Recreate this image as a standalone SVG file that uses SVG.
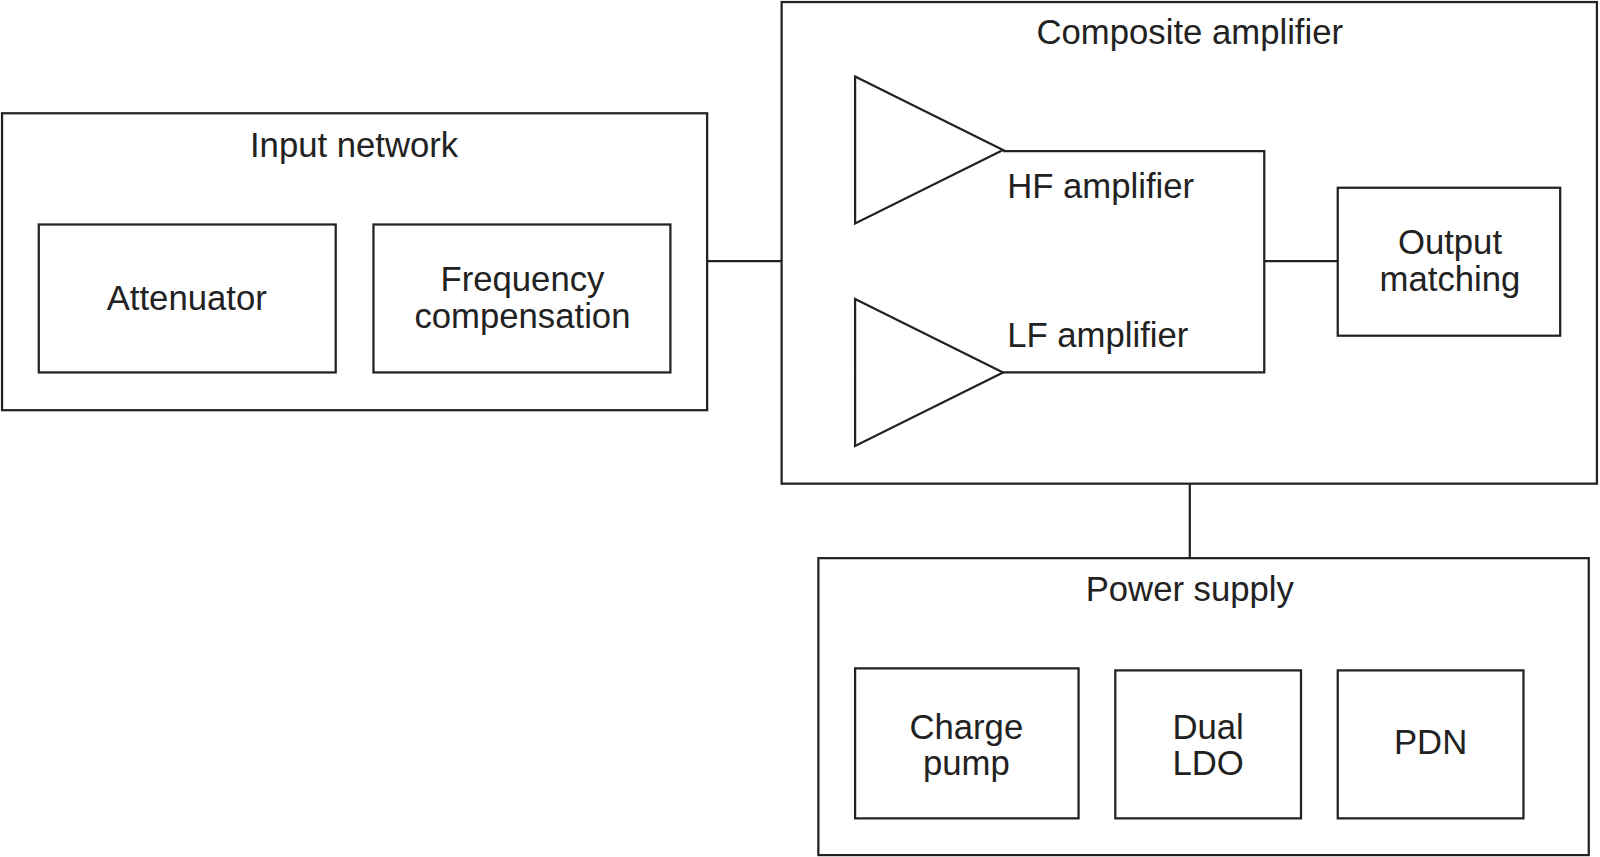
<svg xmlns="http://www.w3.org/2000/svg" width="1600" height="857" viewBox="0 0 1600 857">
<style>
.b{fill:none;stroke:#222;stroke-width:2.2}
text{font-family:"Liberation Sans",Arial,sans-serif;font-size:34px;fill:#222;text-anchor:middle;dominant-baseline:central}
</style>
<rect width="1600" height="857" fill="#fff"/>
<g transform="scale(1.0204)">
<g id="input-network"><rect class="b" x="2" y="111" width="691" height="291"/><text x="347" y="142">Input network</text></g>
<g id="attenuator"><rect class="b" x="38" y="220" width="291" height="145"/><text x="183" y="292">Attenuator</text></g>
<g id="freq-comp"><rect class="b" x="366" y="220" width="291" height="145"/><text x="512" y="273">Frequency</text><text x="512" y="310">compensation</text></g>
<g id="composite"><rect class="b" x="766" y="2" width="799" height="472"/><text x="1166" y="31">Composite amplifier</text></g>
<g id="hf-amp"><polygon class="b" points="838,75 983,147 838,219"/><text x="987" y="182" style="text-anchor:start">HF amplifier</text></g>
<g id="lf-amp"><polygon class="b" points="838,293 983,365 838,437"/><text x="987" y="328" style="text-anchor:start">LF amplifier</text></g>
<g id="output-matching"><rect class="b" x="1311" y="184" width="218" height="145"/><text x="1421" y="237">Output</text><text x="1421" y="273">matching</text></g>
<g id="power-supply"><rect class="b" x="802" y="547" width="755" height="291"/><text x="1166" y="577">Power supply</text></g>
<g id="charge-pump"><rect class="b" x="838" y="655" width="219" height="147"/><text x="947" y="712">Charge</text><text x="947" y="748">pump</text></g>
<g id="dual-ldo"><rect class="b" x="1093" y="657" width="182" height="145"/><text x="1184" y="712">Dual</text><text x="1184" y="748">LDO</text></g>
<g id="pdn"><rect class="b" x="1311" y="657" width="182" height="145"/><text x="1402" y="727">PDN</text></g>
<g id="connectors">
<line class="b" x1="693" y1="256" x2="766" y2="256"/>
<polyline class="b" points="983,148 1239,148 1239,365 983,365"/>
<line class="b" x1="1239" y1="256" x2="1311" y2="256"/>
<line class="b" x1="1166" y1="474" x2="1166" y2="547"/>
</g>
</g>
</svg>
